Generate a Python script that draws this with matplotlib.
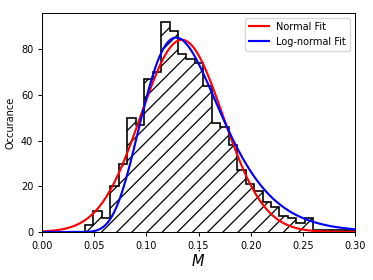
import matplotlib
matplotlib.use("Agg")
import matplotlib.pyplot as plt
import numpy as np

# histogram counts (32 equal bins)
counts = [3, 9, 6, 20, 30, 50, 47, 67, 70, 92, 88, 78, 76, 74, 64, 48,
          46, 38, 27, 21, 18, 13, 11, 7, 6, 4, 6, 1, 1, 1, 1, 1]
bin_start = 0.0412
bin_width = 0.008105

# fit parameters
norm_mu, norm_sigma = 0.134, 0.0393
logn_mu, logn_sigma = -1.968, 0.29

edges = bin_start + bin_width * np.arange(len(counts) + 1)
scale = sum(counts) * bin_width

x = np.linspace(0.0005, 0.30, 600)
normal = scale * np.exp(-(x - norm_mu) ** 2 / (2 * norm_sigma ** 2)) / (norm_sigma * np.sqrt(2 * np.pi))
lognormal = scale * np.exp(-(np.log(x) - logn_mu) ** 2 / (2 * logn_sigma ** 2)) / (x * logn_sigma * np.sqrt(2 * np.pi))

dpi = 91
fig = plt.figure(figsize=(374 / dpi, 280 / dpi), dpi=dpi)
ax = fig.add_axes([0.1123, 0.1714, 0.8369, 0.7822])

ax.stairs(counts, edges, fill=False, hatch='//', color='black', linewidth=1.3)
ax.plot(x, normal, color='red', linewidth=1.7, label='Normal Fit')
ax.plot(x, lognormal, color='blue', linewidth=1.7, label='Log-normal Fit')

ax.set_xlim(0, 0.30)
ax.set_ylim(0, 96)
ax.set_xticks([0.0, 0.05, 0.10, 0.15, 0.20, 0.25, 0.30])
ax.set_xticklabels(['0.00', '0.05', '0.10', '0.15', '0.20', '0.25', '0.30'])
ax.tick_params(labelsize=7.7)
ax.set_xlabel(r'$\dot{M}$', fontsize=11.5, labelpad=-1)
ax.set_ylabel('Occurance', fontsize=7.7)
ax.legend(fontsize=7.7, loc='upper right')

fig.savefig('out.png', dpi=dpi)
